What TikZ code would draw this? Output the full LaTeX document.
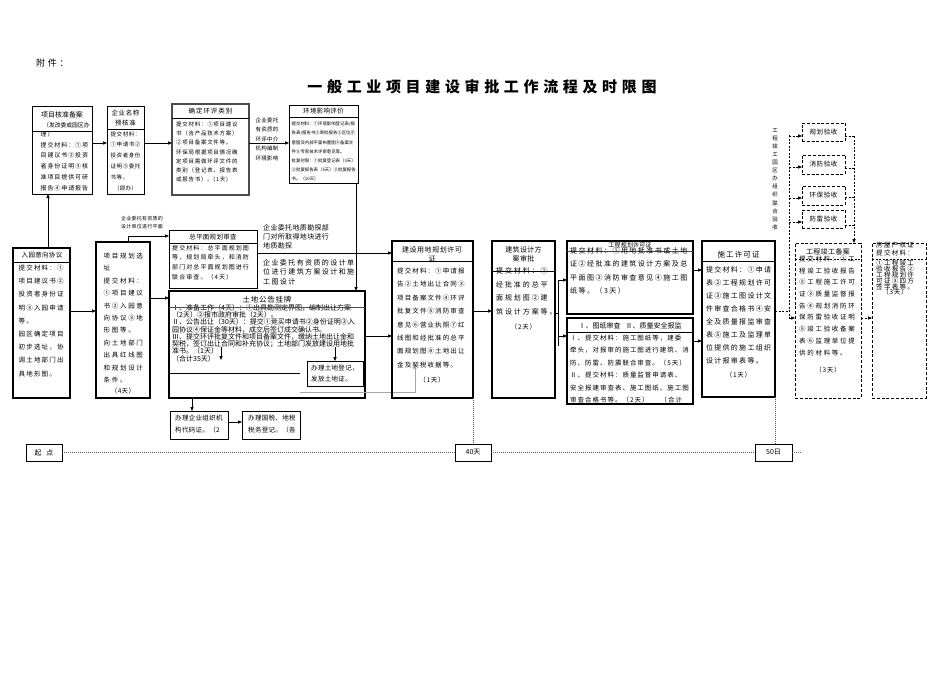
\documentclass[tikz,border=0pt]{standalone}
\usepackage{fontspec}
\setmainfont{Noto Sans CJK SC}
\usetikzlibrary{arrows.meta}
\begin{document}
\begin{tikzpicture}[x=1pt,y=-1pt,
 box/.style={draw=black, line width=0.7pt, inner sep=0pt, outer sep=0pt, anchor=north west},
 tbox/.style={box, line width=1.6pt},
 dbox/.style={box, dash pattern=on 3pt off 1.8pt, line width=0.7pt},
 arr/.style={-{Triangle[length=4pt,width=3.2pt]}, line width=0.7pt},
 dotl/.style={line width=0.6pt, draw=gray!70!black, dash pattern=on 1pt off 1pt},
 dsh/.style={line width=0.6pt, dash pattern=on 2pt off 1.5pt},
 hl/.style={line width=0.6pt},
 txt/.style n args={3}{anchor=north west, align=left, inner sep=0pt, font={\fontsize{#1}{#2}\selectfont\lineskiplimit=-10pt\addfontfeature{LetterSpace=#3}}},
 ctr/.style n args={3}{anchor=center, align=center, inner sep=0pt, font={\fontsize{#1}{#2}\selectfont\lineskiplimit=-10pt\addfontfeature{LetterSpace=#3}}},
]
\fill[white] (0,0) rectangle (950,672);
\useasboundingbox (0,0) rectangle (950,672);

% heading
\node[anchor=west, inner sep=0pt, font={\fontsize{9}{9}\selectfont\addfontfeature{LetterSpace=30}}] (fujian) at (36,63) {附件：};
\node[anchor=center, inner sep=0pt, font={\fontsize{15}{15}\selectfont\bfseries\addfontfeature{LetterSpace=31}}] (title) at (482,87) {一般工业项目建设审批工作流程及时限图};

% ---------- top row ----------
\node[box, minimum width=60pt, minimum height=88pt] (boxA) at (32,106) {};
\node[ctr={7}{7}{0}] (boxAt) at (62,115) {项目核准备案};
\node[txt={5.8}{10}{0}] (boxAs) at (43,122.1) {（发改委或园区办};
\draw[hl] (boxA.west |- 0,131) -- (boxA.east |- 0,131);
\node[txt={6}{10.8}{15}] (boxAb) at (40.5,131) {理）\\提交材料：①项\\目建议书②投资\\者身份证明③核\\准项目提供可研\\报告④申请报告};

\node[box, minimum width=37pt, minimum height=88pt] (boxB) at (107,106) {};
\node[ctr={6.5}{10}{8}] (boxBt) at (125.5,118.5) {企业名称\\预核准};
\draw[hl] (boxB.west |- 0,129) -- (boxB.east |- 0,129);
\node[txt={5.5}{10.8}{10}] (boxBb) at (110.5,131.25) {提交材料：\\①申请书②\\投资者身份\\证明③委托\\书等。};
\node[ctr={5.5}{5.5}{5}] (boxBd) at (125.5,188) {（即办）};

\node[box, draw=gray!60!black, line width=1.3pt, minimum width=77pt, minimum height=91pt] (boxC) at (172,104) {};
\node[ctr={6.5}{6.5}{15}] (boxCt) at (210.5,111.5) {确定环评类别};
\draw[hl] (boxC.west |- 0,118) -- (boxC.east |- 0,118);
\node[txt={5.5}{9.3}{13}] (boxCb) at (176,121.25) {提交材料：①项目建议\\书（含产品技术方案）\\②项目备案文件等。\\环保局根据项目情况确\\定项目需做环评文件的\\类别（登记表、报告表\\或报告书）。(1天)};

\node[ctr={5.5}{9.5}{5}] (hpnote) at (267,139) {企业委托\\有资质的\\环评中介\\机构编制\\环境影响};

\node[box, minimum width=69pt, minimum height=78pt] (boxD) at (289,105) {};
\node[ctr={6.5}{6.5}{5}] (boxDt) at (323.5,111.5) {环境影响评价};
\draw[hl] (boxD.west |- 0,117) -- (boxD.east |- 0,117);
\node[txt={4.4}{9.2}{0}] (boxDb) at (291.5,121.8) {提交材料：①环境影响登记表/报\\告表/报告书②审批报告③区位示\\意图及内部平面布置图④备案文\\件⑤专家技术评审意见等。\\批复时限：①批复登记表（3天）\\②批复报告表（5天）③批复报告\\书。（10天）};

\draw[arr] (boxA.east |- 0,143) -- (boxB.west |- 0,143);
\draw[arr] (boxB.east |- 0,143) -- (boxC.west |- 0,143);
\draw[arr] (boxC.east |- 0,143) -- (boxD.west |- 0,143);

% ---------- acceptance column ----------
\node[ctr={5.5}{8.1}{0}] (ysnote) at (775,179) {工\\程\\竣\\工\\园\\区\\办\\组\\织\\联\\合\\验\\收};
\node[dbox, minimum width=43pt, minimum height=18pt, font={\fontsize{6.5}{6.5}\selectfont\addfontfeature{LetterSpace=8}}] (ys1) at (802,123) {规划验收};
\node[dbox, minimum width=43pt, minimum height=19pt, font={\fontsize{6.5}{6.5}\selectfont\addfontfeature{LetterSpace=8}}] (ys2) at (802,155) {消防验收};
\node[dbox, minimum width=43pt, minimum height=19pt, font={\fontsize{6.5}{6.5}\selectfont\addfontfeature{LetterSpace=8}}] (ys3) at (802,186) {环保验收};
\node[dbox, minimum width=43pt, minimum height=18pt, font={\fontsize{6.5}{6.5}\selectfont\addfontfeature{LetterSpace=8}}] (ys4) at (802,210) {防雷验收};

\node[dbox, minimum width=66pt, minimum height=155pt] (jg) at (795,243) {};
\node[ctr={7}{7}{5}] (jgt) at (828,251.5) {工程竣工备案};
\draw[dsh] (jg.west |- 0,259) -- (jg.east |- 0,259);
\node[txt={6.5}{11.7}{26}] (jgb) at (799,255.75) {提交材料：①工\\程竣工验收报告\\②工程施工许可\\证③质量监督报\\告④规划消防环\\保防雷验收证明\\⑤竣工验收备案\\表⑥监理单位提\\供的材料等。};
\node[ctr={6.5}{6.5}{10}] (jgd) at (828,370) {（3天）};

\node[dbox, minimum width=54pt, minimum height=155pt] (fw) at (872,243) {};
\node[txt={6.5}{7.5}{20}] (fwt) at (876,242) {房屋产权证\\提交材料：};
\draw[dsh] (fw.west |- 0,259) -- (fw.east |- 0,259);
\node[txt={6.5}{5.9}{20}] (fwb) at (876,260) {①工程竣工\\验收报告②\\工程规划许\\可证③四方\\签字表等。};
\node[ctr={6.5}{6.5}{10}] (fwd) at (895,292.5) {（3天）};

\coordinate (jL) at (789,135);
\coordinate (jLb) at (789,318);
\coordinate (jR) at (854,136);
\draw[dsh] (jL) -- (jLb);
\foreach \yy/\nn in {136/ys1,167/ys2,198/ys3,222/ys4}
  \draw[dsh, arr] (jL |- 0,\yy) -- (\nn.west |- 0,\yy);
\foreach \yy/\nn in {136/ys1,168/ys2,197/ys3,225/ys4}
  \draw[dsh] (\nn.east |- 0,\yy) -- (jR |- 0,\yy);
\draw[dsh, arr] (jR) -- (jg.north -| jR);
\draw[dsh, arr] (jLb) -- (jg.west |- jLb);
\draw[dsh, arr] (jg.east |- 0,318) -- (fw.west |- 0,318);

% ---------- second row ----------
\node[tbox, minimum width=57pt, minimum height=150pt] (ry) at (13,248) {};
\node[ctr={6.5}{6.5}{5}] (ryt) at (42,255) {入园意向协议};
\draw[hl] (ry.west |- 0,262) -- (ry.east |- 0,262);
\node[txt={6.5}{13.2}{18}] (ryb) at (18.5,264.75) {提交材料：①\\项目建议书②\\投资者身份证\\明③入园申请\\等。\\园区确定项目\\初步选址，协\\调土地部门出\\具地形图。};

\node[tbox, minimum width=54pt, minimum height=156pt] (xz) at (96,242) {};
\node[txt={6.5}{12.4}{26}] (xzb) at (103.5,252.75) {项目规划选\\址\\提交材料：\\①项目建议\\书②入园意\\向协议③地\\形图等。\\向土地部门\\出具红线图\\和规划设计\\条件。};
\node[ctr={6.5}{6.5}{5}] (xzd) at (123,391) {（4天）};

\node[ctr={5}{8}{5}] (zpnote) at (142,223) {企业委托有资质的\\设计单位进行平面};
\node[box, minimum width=88pt, minimum height=58pt] (zp) at (169,230) {};
\node[ctr={6.5}{6.5}{5}] (zpt) at (213,237) {总平面规划审查};
\draw[hl] (zp.west |- 0,243) -- (zp.east |- 0,243);
\node[txt={6}{9.7}{18}] (zpb) at (172,245) {提交材料：总平面规划图\\等，规划局牵头，和消防\\部门对总平面规划图进行\\联合审查。（4天）};

\node[txt={7}{8.7}{5}] (kcnote) at (263,224.5) {企业委托地质勘探部\\门对所取得地块进行\\地质勘探};
\node[txt={7}{9.2}{20}] (sjnote) at (263,259.5) {企业委托有资质的设计单\\位进行建筑方案设计和施\\工图设计};

\node[tbox, minimum width=196pt, minimum height=107pt] (td) at (169,291) {};
\node[ctr={7.5}{7.5}{10}] (tdt) at (267,300) {土地公告挂牌};
\node[txt={7}{7.3}{0}] (tdb) at (172,304) {Ⅰ、准备工作（4天）：①出具勘测定界图，编制出让方案\\（2天）②报市政府审批（2天）。\\Ⅱ、公告出让（30天）：提交①竞买申请书②身份证明③入\\园协议④保证金等材料，成交后签订成交确认书。\\Ⅲ、提交环评批复文件和项目备案文件，缴纳土地出让金和\\契税，签订出让合同和补充协议；土地部门发放建设用地批\\准书。（1天）\\（合计35天）};
\draw[hl, draw=gray!60!black] (td.west |- 0,307) -- (td.east |- 0,307);
\node[box, line width=0.6pt, minimum width=56pt, minimum height=25pt] (tdreg) at (307,361) {};
\node[txt={6.5}{11}{5}] (tdregt) at (311,364.75) {办理土地登记，\\发放土地证。};
\coordinate (a1s) at (221,347);
\coordinate (a1e) at (221,360);
\draw[arr] (a1s) -- (a1e);
\coordinate (a2s) at (335,347);
\draw[arr] (a2s) -- (tdreg.north -| a2s);
\coordinate (gl0) at (300,373);
\draw[hl] (td.west |- gl0) -- (gl0);
\coordinate (gl1) at (300,392);
\coordinate (gl2) at (415,365);
\draw[arr, draw=gray!70] (gl1) -| (gl2);

\node[box, line width=0.6pt, minimum width=58pt, minimum height=28pt] (e1) at (170,411) {};
\node[txt={6.5}{12}{5}] (e1t) at (175,414.75) {办理企业组织机\\构代码证。（2};
\node[box, line width=0.6pt, minimum width=58pt, minimum height=28pt] (e2) at (242,411) {};
\node[txt={6.5}{12}{5}] (e2t) at (248,414.75) {办理国税、地税\\税务登记。（各};
\draw[arr] (td.south -| 192,0) -- (e1.north -| 192,0);
\draw[arr] (e1.east |- 0,422) -- (e2.west |- 0,422);

\node[tbox, minimum width=81pt, minimum height=157pt] (yd) at (392,241) {};
\node[ctr={7}{8.5}{8}] (ydt) at (432,254) {建设用地规划许可\\证};
\draw[hl] (yd.west |- 0,261) -- (yd.east |- 0,261);
\node[txt={6.5}{13.4}{17}] (ydb) at (397,267.75) {提交材料：①申请报\\告②土地出让合同③\\项目备案文件④环评\\批复文件⑤消防审查\\意见⑥营业执照⑦红\\线图和经批准的总平\\面规划图⑧土地出让\\金及契税收据等。};
\node[ctr={6.5}{6.5}{10}] (ydd) at (432,380) {（1天）};

\node[tbox, minimum width=63pt, minimum height=157pt] (jz) at (492,241) {};
\node[ctr={7}{9}{5}] (jzt) at (523.5,254.5) {建筑设计方\\案审批};
\draw[hl] (jz.west |- 0,271) -- (jz.east |- 0,271);
\node[txt={7}{13.5}{27}] (jzb) at (496,267.5) {提交材料：①\\经批准的总平\\面规划图②建\\筑设计方案等。};
\node[ctr={6.5}{6.5}{10}] (jzd) at (523.5,327) {（2天）};

\node[tbox, minimum width=126pt, minimum height=73pt] (gc) at (567,241) {};
\node[ctr={6}{6}{3}] (gct) at (630,245.5) {工程规划许可证};
\draw[hl, draw=gray!60!black] (gc.west |- 0,251) -- (gc.east |- 0,251);
\node[txt={7}{13.3}{21}] (gcb) at (570,247.5) {提交材料：①用地批准书或土地\\证②经批准的建筑设计方案及总\\平面图③消防审查意见④施工图\\纸等。（3天）};

\node[tbox, minimum width=126pt, minimum height=86pt] (tz) at (567,318) {};
\node[ctr={7}{7}{0}] (tzt) at (630,326) {Ⅰ、图纸审查\hspace{5pt}Ⅱ、质量安全报监};
\draw[hl] (tz.west |- 0,332) -- (tz.east |- 0,332);
\node[txt={6.5}{12.5}{15}] (tzb) at (570,334.75) {Ⅰ、提交材料：施工图纸等，建委\\牵头，对报审的施工图进行建筑、消\\防、防雷、防震联合审查。（5天）\\Ⅱ、提交材料：质量监督申请表、\\安全报建审查表、施工图纸、施工图\\审查合格书等。（2天）\hspace{12pt}（合计};

\node[tbox, minimum width=73pt, minimum height=156pt] (sg) at (702,241) {};
\node[ctr={7.5}{7.5}{15}] (sgt) at (738.5,255) {施工许可证};
\draw[hl] (sg.west |- 0,261) -- (sg.east |- 0,261);
\node[txt={7}{13}{18}] (sgb) at (706,266.5) {提交材料：①申请\\表②工程规划许可\\证③施工图设计文\\件审查合格书④安\\全及质量报监审查\\表⑤施工及监理单\\位提供的施工组织\\设计报审表等。};
\node[ctr={6.5}{6.5}{10}] (sgd) at (738.5,375) {（1天）};

% connectors second row
\draw[arr] (ry.north -| 48,0) -- (boxA.south -| 48,0);
\draw[arr] (boxD.south -| 356,0) -- (td.north -| 356,0);
\draw[arr] (ry.east |- 0,311) -- (xz.west |- 0,311);
\draw[arr] (xz.east |- 0,298) -- (td.west |- 0,298);
\draw[arr] (xz.north -| 128,0) |- (zp.west |- 0,236);
\draw[arr] (zp.east |- 0,253) -- (yd.west |- 0,253);
\draw[arr] (td.east |- 0,336) -- (yd.west |- 0,336);
\draw[arr] (yd.east |- 0,311) -- (jz.west |- 0,311);
\coordinate (sp) at (558,313);
\coordinate (spt) at (558,280);
\coordinate (spb) at (558,346);
\draw[hl] (jz.east |- sp) -- (sp);
\draw[hl] (spt) -- (spb);
\draw[arr] (spt) -- (gc.west |- spt);
\draw[arr] (sp |- 0,336) -- (tz.west |- 0,336);
\draw[arr] (gc.east |- 0,270) -- (sg.west |- 0,270);
\draw[arr] (tz.east |- 0,341) -- (sg.west |- 0,341);
\draw[dsh] (sg.east |- 0,311) -- (jL |- 0,311);

% ---------- timeline ----------
\node[box, line width=0.6pt, minimum width=36pt, minimum height=17pt, font={\fontsize{7}{7}\selectfont}] (t0) at (26,444) {起\hspace{5pt}点};
\node[box, line width=0.6pt, minimum width=36pt, minimum height=17pt, font={\fontsize{7}{7}\selectfont}] (t40) at (455,444) {40天};
\node[box, line width=0.6pt, minimum width=37pt, minimum height=17pt, font={\fontsize{7}{7}\selectfont}] (t50) at (755,444) {50日};
\coordinate (tend) at (802,452.5);
\draw[dotl] (t0.east) -- (t40.west);
\draw[dotl] (t40.east) -- (t50.west);
\draw[dotl] (t50.east) -- (tend);
\draw[dotl] (yd.south east) -- (yd.south east |- t40.north);
\draw[dotl] (sg.south east) -- (sg.south east |- t50.north);
\end{tikzpicture}
\end{document}
